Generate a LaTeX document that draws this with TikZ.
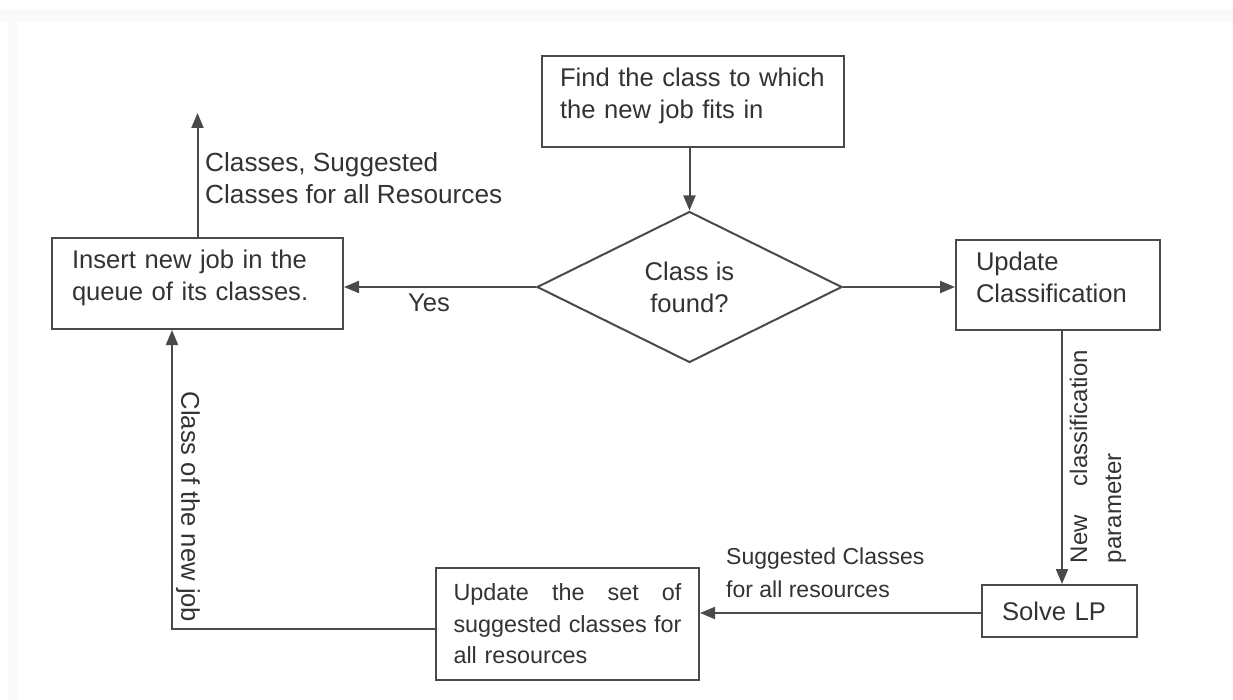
\documentclass[tikz,border=0pt]{standalone}
\usepackage{fontspec}
\setmainfont{Liberation Sans}
\usetikzlibrary{arrows.meta,shapes.geometric}
\definecolor{ink}{HTML}{333333}
\definecolor{edge}{HTML}{4A4A4A}
% extra depth below the last line lifts box text a little above centre
\newcommand\lowpad{\rule[-16pt]{0pt}{16pt}}

\begin{document}
\begin{tikzpicture}[x=1pt,y=-1pt,
  every node/.style={text=ink,font=\fontsize{25.6}{32}\selectfont},
  stepbox/.style={draw=edge,line width=2pt,inner xsep=20pt,inner ysep=0pt,align=left},
  decision/.style={draw=edge,line width=2pt,diamond,inner sep=0pt,
    minimum width=305pt,minimum height=151pt,align=center},
  flow/.style={draw=edge,line width=2pt,-{Triangle[length=15pt,width=12pt]}},
  tag/.style={inner sep=0pt,align=left}]

% page area and faint scan edges
\useasboundingbox (0,0) rectangle (1233,700);
\fill[white] (0,0) rectangle (1233,700);
\fill[black!2] (0,9) rectangle (1233,22);
\fill[black!2] (8,22) rectangle (18,700);

% process steps
\node[stepbox,text width=266pt,inner xsep=18pt,minimum height=91pt] (find) at (693,101.5)
  {Find the class to which\\the new job fits in\lowpad};
\node[decision] (dec) at (689.5,287) {Class is\\found?};
\node[stepbox,text width=251pt,minimum height=91pt] (insert) at (197.5,283.5)
  {Insert new job in the\\queue of its classes.\lowpad};
\node[stepbox,text width=164pt,minimum height=90pt] (uc) at (1058,285)
  {Update\\Classification\lowpad};
\node[stepbox,text width=115pt,minimum height=52pt] (solve) at (1059.5,611) {Solve LP};
\node[stepbox,text width=228pt,inner xsep=17.5pt,minimum height=112pt,
  font=\fontsize{23.4}{31.5}\selectfont] (set) at (567.5,624)
  {\makebox[228pt]{Update\hfill the\hfill set\hfill of}\\
   \makebox[228pt]{suggested\hfill classes\hfill for}\\
   all resources};

% free ends and bends
\coordinate (out) at (198,113);
\coordinate (bend) at (172,629);
\coordinate (lp) at (982,613);

% edge labels
\node[tag,anchor=west,font=\fontsize{26.2}{32}\selectfont] (lblres) at (205,178)
  {Classes, Suggested\\Classes for all Resources};
\node[tag] (lblyes) at (429,303) {Yes};
\node[tag,anchor=west,font=\fontsize{23}{33}\selectfont] (lblsug) at (726,573)
  {Suggested Classes\\for all resources};
\node[tag,rotate=-90] (lblcls) at (188,507) {Class of the new job};
\node[tag,rotate=90,font=\fontsize{24}{34}\selectfont] (lblpar) at (1098,456.5)
  {\makebox[213pt]{New\hfill classification}\\parameter};

% connectors
\draw[flow] (find.south -| dec.north) -- (dec.north);
\draw[flow] (dec.west) -- (dec.west -| insert.east);
\draw[flow] (dec.east) -- (dec.east -| uc.west);
\draw[flow] ([xshift=4pt]uc.south) -- ([xshift=4pt]uc.south |- solve.north);
\draw[flow] (solve.west |- lp) -- (lp -| set.east);
\draw[flow] (set.west |- bend) -- (bend) -- (bend |- insert.south);
\draw[flow] (insert.north) -- (insert.north |- out);
\end{tikzpicture}
\end{document}
